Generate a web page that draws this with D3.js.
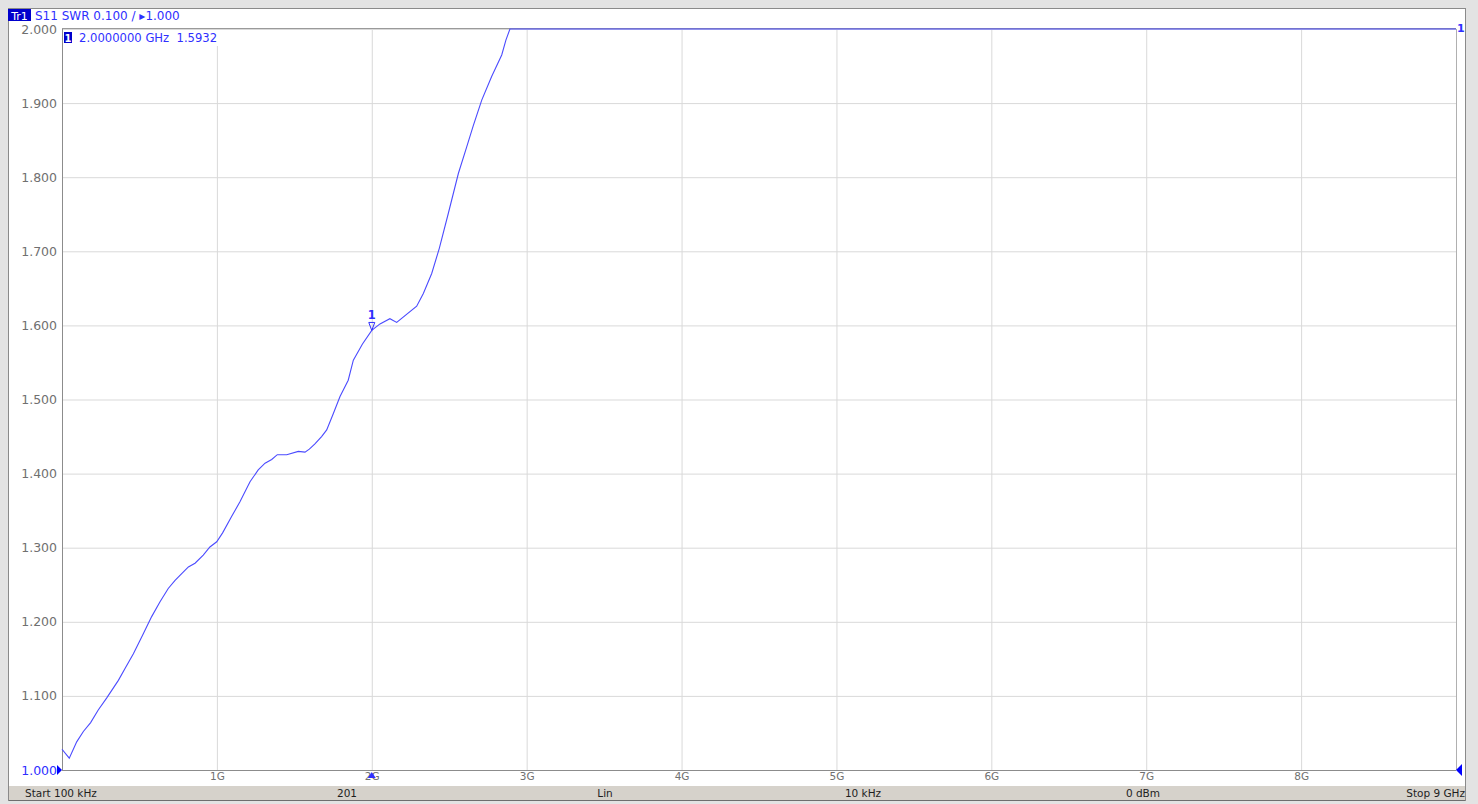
<!DOCTYPE html>
<html>
<head>
<meta charset="utf-8">
<script src="https://cdn.jsdelivr.net/npm/d3@7"></script>
<style>
  html, body { margin: 0; padding: 0; background: #e3e3e3; }
  svg { display: block; }
  text { font-family: "DejaVu Sans", Verdana, sans-serif; }
</style>
</head>
<body>
<svg id="vna" width="1478" height="804"></svg>
<script>
// S11 SWR sweep, frequency in GHz
const freqGHz = [0.0001, 0.047, 0.095, 0.138, 0.185, 0.234, 0.288, 0.364, 0.407, 0.461,
  0.525, 0.579, 0.633, 0.686, 0.730, 0.773, 0.816, 0.859, 0.912, 0.955,
  0.999, 1.037, 1.095, 1.149, 1.214, 1.267, 1.311, 1.354, 1.390, 1.451,
  1.526, 1.569, 1.597, 1.633, 1.676, 1.709, 1.752, 1.795, 1.848, 1.881,
  1.940, 2.000, 2.053, 2.117, 2.161, 2.290, 2.333, 2.387, 2.436, 2.494,
  2.559, 2.613, 2.656, 2.710, 2.774, 2.839, 2.866, 2.892, 3.0, 4.0,
  5.0, 6.0, 7.0, 8.0, 9.0];
const swr = [1.028, 1.016, 1.038, 1.052, 1.064, 1.081, 1.097, 1.121, 1.137, 1.157,
  1.184, 1.207, 1.227, 1.245, 1.256, 1.265, 1.274, 1.279, 1.290, 1.301,
  1.308, 1.320, 1.342, 1.362, 1.389, 1.405, 1.414, 1.419, 1.4255, 1.4255,
  1.430, 1.429, 1.433, 1.440, 1.450, 1.459, 1.481, 1.504, 1.526, 1.553,
  1.575, 1.5932, 1.602, 1.609, 1.604, 1.626, 1.643, 1.670, 1.704, 1.751,
  1.805, 1.841, 1.870, 1.904, 1.936, 1.965, 1.985, 2.000, 2.000, 2.000,
  2.000, 2.000, 2.000, 2.000, 2.000];

const yTicks = [1.0, 1.1, 1.2, 1.3, 1.4, 1.5, 1.6, 1.7, 1.8, 1.9, 2.0];
const xTicks = [1, 2, 3, 4, 5, 6, 7, 8];
const xTickLabels = ["1G", "2G", "3G", "4G", "5G", "6G", "7G", "8G"];

const headerText = "S11 SWR 0.100 / \u25B81.000";
const markerFreq = 2.0;
const markerValue = 1.5932;
const statusItems = ["Start 100 kHz", "201", "Lin", "10 kHz", "0 dBm", "Stop 9 GHz"];

const BLUE = "#2f2fff";
const TRACE = "#4b4bff";

const svg = d3.select("#vna");

// window panel
svg.append("rect").attr("x", 8.5).attr("y", 8.5).attr("width", 1457).attr("height", 792)
  .attr("fill", "#fff").attr("stroke", "#8a8a8a");

const plot = { left: 62, right: 1456, top: 29, bottom: 770 };
const x = d3.scaleLinear().domain([0.0001, 9]).range([plot.left, plot.right]);
const y = d3.scaleLinear().domain([1, 2]).range([plot.bottom, plot.top]).clamp(true);

// grid
const gx = svg.append("g").attr("transform", `translate(0,${plot.bottom})`)
  .call(d3.axisBottom(x).tickValues(xTicks).tickSize(-(plot.bottom - plot.top))
    .tickFormat((d, i) => xTickLabels[i]).tickPadding(3));
gx.select(".domain").remove();
gx.selectAll(".tick line").attr("stroke", "#d9d9d9");
gx.selectAll(".tick text").attr("fill", "#707070").attr("font-size", 10.5)
  .attr("font-family", "DejaVu Sans, sans-serif");

const gy = svg.append("g").attr("transform", `translate(${plot.left},0)`)
  .call(d3.axisLeft(y).tickValues(yTicks).tickSize(-(plot.right - plot.left))
    .tickFormat(d3.format(".3f")).tickPadding(5));
gy.select(".domain").remove();
gy.selectAll(".tick line").attr("stroke", "#d9d9d9");
gy.selectAll(".tick text").attr("fill", d => d === 1 ? BLUE : "#707070")
  .attr("font-size", 12.5).attr("font-family", "DejaVu Sans, sans-serif");

// plot frame
svg.append("line").attr("x1", plot.left + 0.5).attr("x2", plot.left + 0.5)
  .attr("y1", plot.top).attr("y2", plot.bottom).attr("stroke", "#8c8c8c");
svg.append("line").attr("x1", plot.left).attr("x2", plot.right)
  .attr("y1", plot.bottom + 0.5).attr("y2", plot.bottom + 0.5).attr("stroke", "#8c8c8c");
svg.append("line").attr("x1", plot.left).attr("x2", plot.right)
  .attr("y1", plot.top - 0.5).attr("y2", plot.top - 0.5).attr("stroke", "#9a9a9a");
svg.append("line").attr("x1", plot.right + 0.5).attr("x2", plot.right + 0.5)
  .attr("y1", plot.top).attr("y2", plot.bottom).attr("stroke", "#b0b0b0");

// trace
const pts = freqGHz.map((f, i) => [f, swr[i]]);
svg.append("path").datum(pts)
  .attr("fill", "none").attr("stroke", TRACE).attr("stroke-width", 1.1)
  .attr("d", d3.line().x(d => x(d[0])).y(d => y(d[1])));

// reference / scale indicators
svg.append("path").attr("fill", "#0000ff")
  .attr("d", `M${plot.left - 5},${plot.bottom - 5} L${plot.left},${plot.bottom} L${plot.left - 5},${plot.bottom + 5} Z`);
svg.append("path").attr("fill", "#0000ff")
  .attr("d", `M${plot.right + 6},${plot.bottom - 6} L${plot.right},${plot.bottom} L${plot.right + 6},${plot.bottom + 6} Z`);
svg.append("text").attr("x", plot.right + 1).attr("y", plot.top + 3)
  .attr("fill", BLUE).attr("font-size", 11).attr("font-weight", "bold").text("1");

// marker 1
const mx = x(markerFreq), my = y(markerValue);
svg.append("path").attr("fill", "none").attr("stroke", BLUE).attr("stroke-width", 1)
  .attr("d", `M${mx - 3},${my - 8} L${mx + 3},${my - 8} L${mx},${my} Z`);
svg.append("text").attr("x", mx).attr("y", my - 11).attr("text-anchor", "middle")
  .attr("fill", BLUE).attr("font-size", 11.5).attr("font-weight", "bold").text("1");
// stimulus marker on the frequency axis
svg.append("path").attr("fill", BLUE)
  .attr("d", `M${mx - 4},${plot.bottom + 8} L${mx},${plot.bottom + 2} L${mx + 4},${plot.bottom + 8} Z`);

// marker readout
svg.append("rect").attr("x", plot.left + 1).attr("y", plot.top + 1).attr("width", 156).attr("height", 16)
  .attr("fill", "#fff");
svg.append("rect").attr("x", 64).attr("y", 32).attr("width", 8).attr("height", 11).attr("fill", "#0000cc");
svg.append("text").attr("x", 68).attr("y", 41.5).attr("text-anchor", "middle")
  .attr("fill", "#fff").attr("font-size", 10).attr("font-weight", "bold").text("1");
svg.append("text").attr("x", 79).attr("y", 41.5).attr("fill", BLUE).attr("font-size", 11.6)
  .attr("xml:space", "preserve")
  .text(`${markerFreq.toFixed(7)} GHz  ${markerValue.toFixed(4)}`);

// trace header
svg.append("rect").attr("x", 8).attr("y", 9).attr("width", 23).attr("height", 12).attr("fill", "#0000cc");
svg.append("text").attr("x", 19.5).attr("y", 19.5).attr("text-anchor", "middle")
  .attr("fill", "#fff").attr("font-size", 11).text("Tr1");
svg.append("text").attr("x", 35).attr("y", 19.5).attr("fill", BLUE).attr("font-size", 12)
  .text(headerText);

// status bar
const bar = { x: 9, y: 786, w: 1456, h: 14 };
svg.append("rect").attr("x", bar.x).attr("y", bar.y).attr("width", bar.w).attr("height", bar.h)
  .attr("fill", "#d6d2cb");
svg.append("line").attr("x1", bar.x).attr("x2", bar.x + bar.w).attr("y1", bar.y + bar.h + 0.5)
  .attr("y2", bar.y + bar.h + 0.5).attr("stroke", "#6e6e6e");
const statusPos = [
  { x: 25, anchor: "start" }, { x: 347, anchor: "middle" }, { x: 605, anchor: "middle" },
  { x: 863, anchor: "middle" }, { x: 1143, anchor: "middle" }, { x: 1465, anchor: "end" }];
svg.selectAll("text.status").data(statusItems).join("text").attr("class", "status")
  .attr("x", (d, i) => statusPos[i].x).attr("y", bar.y + 11)
  .attr("text-anchor", (d, i) => statusPos[i].anchor)
  .attr("fill", "#1e1e1e").attr("font-size", 10.5).text(d => d);
</script>
</body>
</html>
